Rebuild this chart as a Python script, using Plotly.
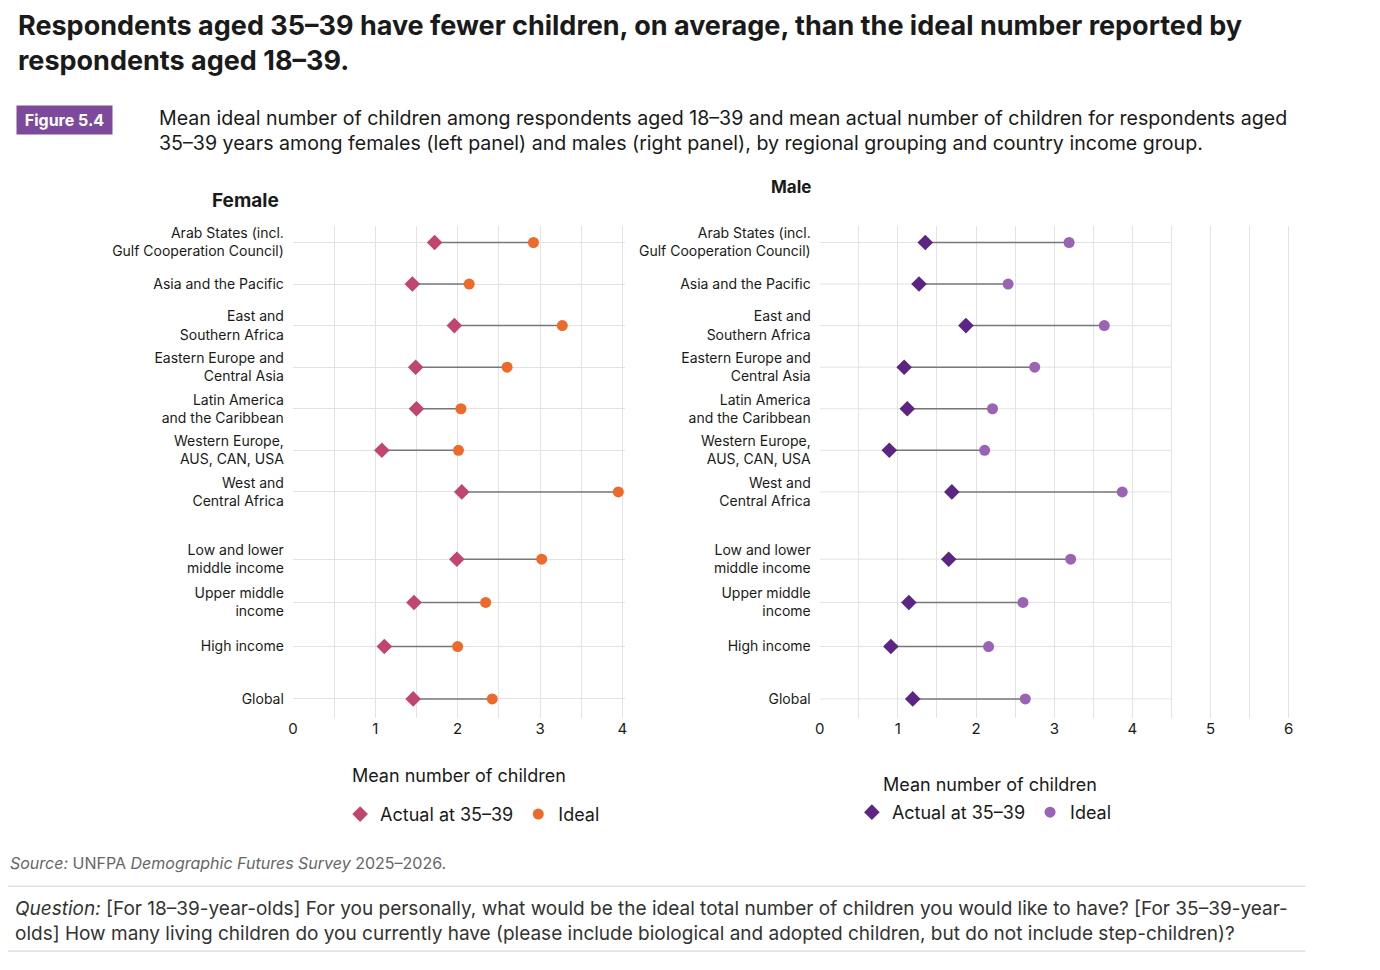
import plotly.graph_objects as go

# ── Data ───────────────────────────────────────────────
GROUPS = [
    "Arab States (incl.<br>Gulf Cooperation Council)",
    "Asia and the Pacific",
    "East and<br>Southern Africa",
    "Eastern Europe and<br>Central Asia",
    "Latin America<br>and the Caribbean",
    "Western Europe,<br>AUS, CAN, USA",
    "West and<br>Central Africa",
    "Low and lower<br>middle income",
    "Upper middle<br>income",
    "High income",
    "Global",
]
ROW_POS = [0, 1, 2, 3, 4, 5, 6, 7.62, 8.66, 9.72, 10.98]

FEMALE_ACTUAL = [1.72, 1.45, 1.96, 1.49, 1.50, 1.08, 2.05, 1.99, 1.47, 1.11, 1.46]
FEMALE_IDEAL = [2.92, 2.14, 3.27, 2.60, 2.04, 2.01, 3.95, 3.02, 2.34, 2.00, 2.42]
MALE_ACTUAL = [1.35, 1.27, 1.87, 1.08, 1.12, 0.89, 1.69, 1.65, 1.14, 0.91, 1.19]
MALE_IDEAL = [3.19, 2.41, 3.64, 2.75, 2.21, 2.11, 3.87, 3.21, 2.60, 2.16, 2.63]

# ── Style ──────────────────────────────────────────────
TEXT = "#1a1a1a"
GRID = "#e3e3e6"
LINE = "#777777"
F_ACT = "#c0466e"
F_IDEAL = "#ee6a2a"
M_ACT = "#5c2483"
M_IDEAL = "#9b63b4"
FONT = "Inter"

# page offset correction (pixels)
DX, DY = -12, -9

fig = go.Figure()


def add_panel(actual, ideal, c_act, c_ideal, xa, ya, legend):
    xs, ys = [], []
    for a, i, y in zip(actual, ideal, ROW_POS):
        xs += [a, i, None]
        ys += [y, y, None]
    fig.add_trace(go.Scatter(x=xs, y=ys, mode="lines", line=dict(color=LINE, width=1.5),
                             showlegend=False, hoverinfo="skip", xaxis=xa, yaxis=ya))
    fig.add_trace(go.Scatter(x=actual, y=ROW_POS, mode="markers", name="Actual at 35–39",
                             marker=dict(symbol="diamond", size=12, color=c_act),
                             xaxis=xa, yaxis=ya, legend=legend))
    fig.add_trace(go.Scatter(x=ideal, y=ROW_POS, mode="markers", name="Ideal",
                             marker=dict(symbol="circle", size=11, color=c_ideal),
                             xaxis=xa, yaxis=ya, legend=legend))


add_panel(FEMALE_ACTUAL, FEMALE_IDEAL, F_ACT, F_IDEAL, "x", "y", "legend")
add_panel(MALE_ACTUAL, MALE_IDEAL, M_ACT, M_IDEAL, "x2", "y2", "legend2")

# male panel horizontal gridlines stop at 4.5
for y in ROW_POS:
    fig.add_shape(type="line", xref="x2", yref="y2", x0=0, x1=4.5, y0=y, y1=y,
                  line=dict(color=GRID, width=1), layer="below")

YDOM = [0.269, 0.777]
yax = dict(domain=YDOM, range=[11.43, -0.4], tickmode="array", tickvals=ROW_POS,
           ticktext=GROUPS, showgrid=True, gridcolor=GRID, zeroline=False,
           tickfont=dict(size=14, color=TEXT), ticks="", ticklabelstandoff=8)
xax = dict(showgrid=True, gridcolor=GRID, zeroline=False,
           tickvals=[0, 1, 2, 3, 4, 5, 6], tickfont=dict(size=15, color=TEXT),
           minor=dict(dtick=0.5, showgrid=True, gridcolor=GRID))

fig.update_layout(
    width=1380, height=970,
    paper_bgcolor="white", plot_bgcolor="white",
    font=dict(family=FONT, color=TEXT),
    margin=dict(l=0, r=0, t=0, b=0),
    xaxis=dict(xax, domain=[0.204, 0.446], range=[0, 4.03], anchor="y",
               title=dict(text="Mean number of children", font=dict(size=18, color=TEXT), standoff=32)),
    yaxis=dict(yax, anchor="x"),
    xaxis2=dict(xax, domain=[0.588, 0.931], range=[0, 6.02], anchor="y2"),
    yaxis2=dict(yax, anchor="x2", showgrid=False),
    legend=dict(orientation="h", x=0.335, xanchor="center", y=0.169, yanchor="middle",
                font=dict(size=18, color=TEXT), itemwidth=30, tracegroupgap=0),
    legend2=dict(orientation="h", x=0.708, xanchor="center", y=0.171, yanchor="middle",
                 font=dict(size=18, color=TEXT), itemwidth=30, tracegroupgap=0),
    showlegend=True,
)

annotations = [
    dict(text="<b>Respondents aged 35–39 have fewer children, on average, than the ideal number reported by<br>respondents aged 18–39.</b>",
         x=15, y=6, font=dict(size=27, color=TEXT)),
    dict(text="<b> Figure 5.4 </b>", x=15, y=104, font=dict(size=16, color="white"),
         bgcolor="#7d4a9b", borderpad=4),
    dict(text="Mean ideal number of children among respondents aged 18–39 and mean actual number of children for respondents aged<br>35–39 years among females (left panel) and males (right panel), by regional grouping and country income group.",
         x=157, y=103, font=dict(size=19.6, color=TEXT)),
    dict(text="<b>Female</b>", x=210, y=186, font=dict(size=19, color=TEXT)),
    dict(text="<b>Male</b>", x=772, y=174, font=dict(size=17, color=TEXT)),
    dict(text="Mean number of children", x=885, y=773, font=dict(size=18, color=TEXT)),
    dict(text="<i>Source:</i> UNFPA <i>Demographic Futures Survey</i> 2025–2026.",
         x=7, y=852, font=dict(size=16, color="#666666")),
    dict(text="<i>Question:</i> [For 18–39-year-olds] For you personally, what would be the ideal total number of children you would like to have? [For 35–39-year-<br>olds] How many living children do you currently have (please include biological and adopted children, but do not include step-children)?",
         x=12, y=896, font=dict(size=19, color="#333333")),
]
for a in annotations:
    fig.add_annotation(xref="paper", yref="paper", x=(a["x"] + DX) / 1380, y=1 - (a["y"] + DY) / 970,
                       xanchor="left", yanchor="top", align="left", showarrow=False,
                       text=a["text"], font=dict(family=FONT, **a["font"]),
                       bgcolor=a.get("bgcolor"), borderpad=a.get("borderpad", 1))

for yy in [887, 952]:
    fig.add_shape(type="line", xref="paper", yref="paper", x0=(7 + DX) / 1380, x1=(1312 + DX) / 1380,
                  y0=1 - (yy + DY) / 970, y1=1 - (yy + DY) / 970, line=dict(color="#d0d0d0", width=1))

fig.write_html("out.html")
